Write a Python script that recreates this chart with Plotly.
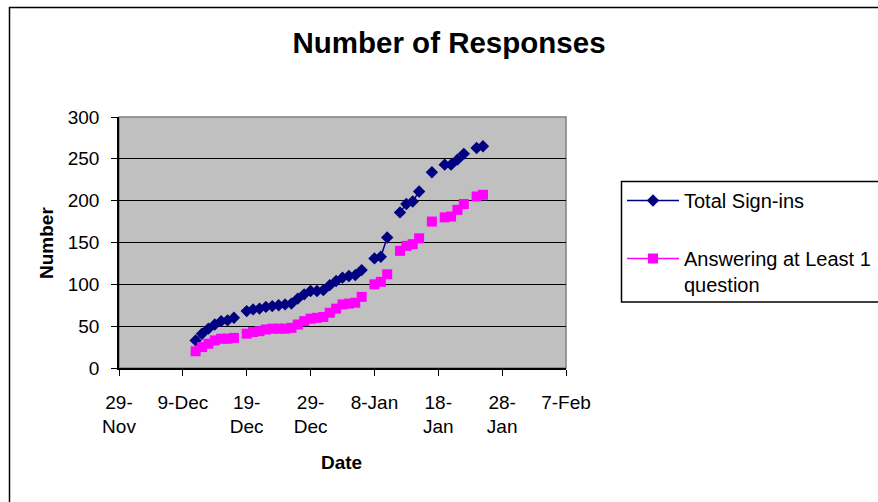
import datetime as dt
import plotly.graph_objects as go

# ---- data ----
start_date = dt.date(2004, 12, 11)
n_days = 46  # Dec 11 .. Jan 25
dates = [(start_date + dt.timedelta(days=i)).isoformat() for i in range(n_days)]

total_signins = [33, 41, 47, 52, 56, 57, 60, None,
                 68, 70, 71, 73, 74, 75, 76, 77, 83, 88, 92, 92, 93,
                 99, 104, 108, 110, 111, 117, None,
                 131, 133, 156, None,
                 186, 196, 199, 211, None,
                 234, None,
                 243, 243, 249, 256, None,
                 263, 265]

answering = [20, 25, 29, 33, 35, 35, 36, None,
             41, 43, 44, 46, 47, 47, 47, 48, 52, 56, 59, 60, 61,
             66, 71, 76, 77, 78, 85, None,
             100, 103, 112, None,
             140, 146, 148, 155, None,
             175, None,
             180, 181, 189, 196, None,
             205, 207]

tick_dates = ["2004-11-29", "2004-12-09", "2004-12-19", "2004-12-29",
              "2005-01-08", "2005-01-18", "2005-01-28", "2005-02-07"]
tick_labels = ["29-<br>Nov", "9-Dec", "19-<br>Dec", "29-<br>Dec",
               "8-Jan", "18-<br>Jan", "28-<br>Jan", "7-Feb"]
y_ticks = [0, 50, 100, 150, 200, 250, 300]

FONT = "Arial, 'Liberation Sans', sans-serif"

# plot-area geometry (pixels)
W, H = 878, 502
L, R, T, B = 119, 566, 117, 368
PW, PH = R - L, B - T


def px(xp):
    return (xp - L) / PW


def py(yp):
    return (B - yp) / PH


fig = go.Figure()
fig.add_trace(go.Scatter(
    x=dates, y=total_signins, name="Total Sign-ins", mode="lines+markers",
    line=dict(color="#000080", width=1.5),
    marker=dict(symbol="diamond", size=9.5, color="#000080"),
    legendgroup="a", connectgaps=False))
fig.add_trace(go.Scatter(
    x=dates, y=answering, name="Answering at Least 1<br>question", mode="lines+markers",
    line=dict(color="#FF00FF", width=1.5),
    marker=dict(symbol="square", size=10, color="#FF00FF"),
    legendgroup="b", connectgaps=False))

fig.update_layout(
    width=W, height=H,
    margin=dict(l=L, r=W - R, t=T, b=H - B, autoexpand=False),
    paper_bgcolor="white", plot_bgcolor="#C0C0C0",
    font=dict(family=FONT, size=19, color="black"),
    title=dict(text="<b>Number of Responses</b>", x=449 / W, xref="container",
               xanchor="center", y=1 - 43 / H, yanchor="middle",
               font=dict(family=FONT, size=29.5, color="black")),
    showlegend=True,
    legend=dict(x=px(622), y=py(181), xanchor="left", yanchor="top",
                bgcolor="rgba(0,0,0,0)", borderwidth=0,
                font=dict(family=FONT, size=20, color="black"),
                itemwidth=52, tracegroupgap=29, valign="top",
                traceorder="grouped"),
    xaxis=dict(type="date", range=["2004-11-29", "2005-02-07"],
               tickvals=tick_dates, ticktext=tick_labels,
               showgrid=False, zeroline=False,
               showline=True, linecolor="black", linewidth=1.5,
               ticks="outside", ticklen=6, tickcolor="black", tickwidth=1,
               ticklabelstandoff=10,
               tickfont=dict(family=FONT, size=19, color="black")),
    yaxis=dict(range=[0, 300], tickvals=y_ticks,
               showgrid=True, gridcolor="black", gridwidth=1,
               zeroline=False,
               showline=True, linecolor="black", linewidth=1.5,
               ticks="outside", ticklen=6, tickcolor="black", tickwidth=1,
               ticklabelstandoff=8,
               tickfont=dict(family=FONT, size=19, color="black")),
)

# plot-area border (gray) on the top/right
fig.add_shape(type="rect", xref="paper", yref="paper", x0=0, x1=1, y0=0, y1=1,
              line=dict(color="#808080", width=1.5), fillcolor="rgba(0,0,0,0)", layer="below")
# outer chart border
fig.add_shape(type="rect", xref="paper", yref="paper",
              x0=px(9.5), x1=px(900), y0=py(7.5), y1=py(520),
              line=dict(color="black", width=1.5), fillcolor="rgba(0,0,0,0)")
# legend box
fig.add_shape(type="rect", xref="paper", yref="paper",
              x0=px(621.5), x1=px(895), y0=py(181.5), y1=py(302),
              line=dict(color="black", width=1.5), fillcolor="rgba(0,0,0,0)")

fig.add_annotation(text="<b>Number</b>", xref="paper", yref="paper",
                   x=px(46), y=py(243), textangle=-90, showarrow=False,
                   xanchor="center", yanchor="middle",
                   font=dict(family=FONT, size=19, color="black"))
fig.add_annotation(text="<b>Date</b>", xref="paper", yref="paper",
                   x=px(341.5), y=py(462), showarrow=False,
                   xanchor="center", yanchor="middle",
                   font=dict(family=FONT, size=19, color="black"))

fig.write_html("out.html")
